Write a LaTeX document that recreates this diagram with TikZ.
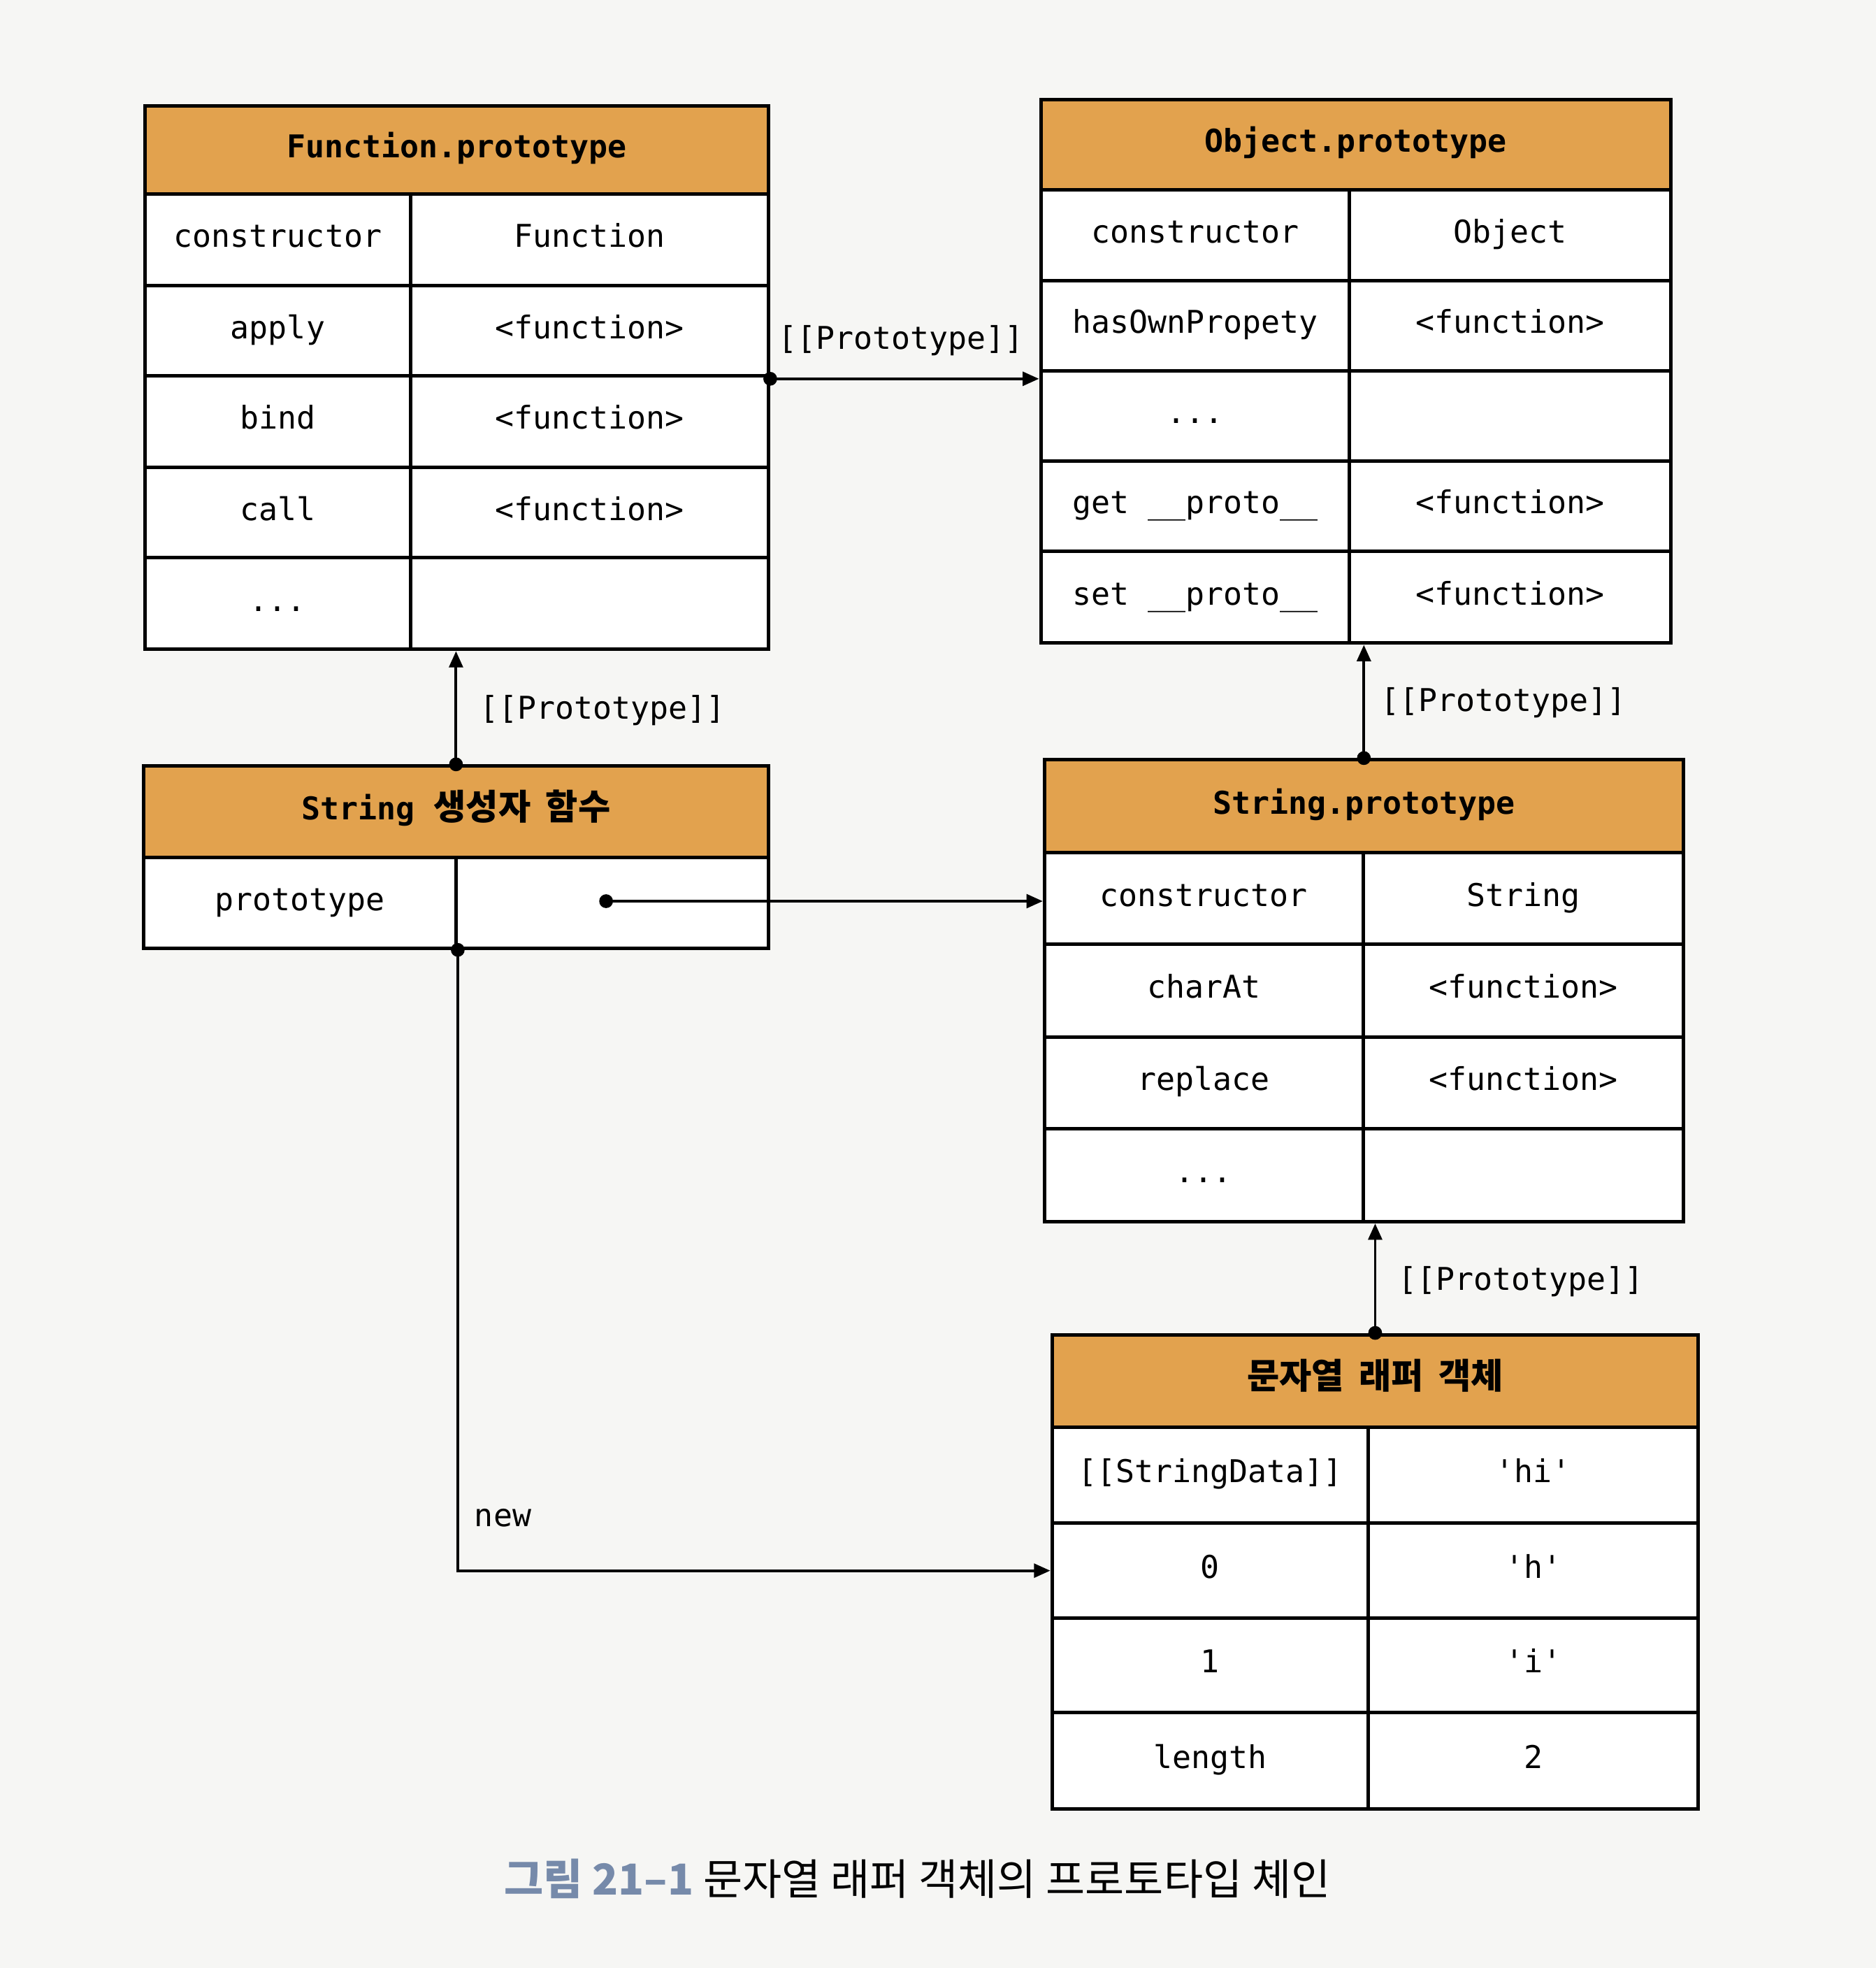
\documentclass[tikz,border=0pt]{standalone}
\usepackage{fontspec}
\usetikzlibrary{arrows.meta}
\newfontfamily\mono{DejaVu Sans Mono}
\newfontfamily\kr{Noto Sans CJK KR}
\definecolor{hdrcol}{RGB}{226,162,78}
\definecolor{capblue}{RGB}{118,138,170}
\definecolor{bgcol}{RGB}{246,246,244}
\newcommand{\fsz}{\fontsize{25}{30}\selectfont}
\newcommand{\krh}{\kr\bfseries\fontsize{28}{30}\selectfont}
\newcommand{\krsp}{\hspace{12pt}}
\begin{document}
\begin{tikzpicture}[x=1pt,y=-1pt,
  box/.style={draw=black, line width=2.8pt, inner sep=0pt, anchor=north west,
    text height=18pt, text depth=6pt, font=\mono\fsz},
  hdr/.style={box, fill=hdrcol, font=\mono\bfseries\fsz},
  cell/.style={box, fill=white},
  lbl/.style={font=\mono\fsz, inner sep=0pt, text height=18pt, text depth=6pt},
  arr/.style={line width=2.2pt, -{Triangle[length=13pt,width=11pt]}},
  dotr/.style={fill=black}]
\fill[bgcol] (0,0) rectangle (1495,1568);
\useasboundingbox (0,0) rectangle (1495,1568);

% Function.prototype
\node[hdr, minimum width=497pt, minimum height=70pt] (fph) at (114,83) {Function.prototype};
\node[cell, minimum width=212pt, minimum height=73pt] (fk1) at (114,153) {constructor};
\node[cell, minimum width=285pt, minimum height=73pt] (fv1) at (326,153) {Function};
\node[cell, minimum width=212pt, minimum height=73pt] (fk2) at (114,226) {apply};
\node[cell, minimum width=285pt, minimum height=73pt] (fv2) at (326,226) {<function>};
\node[cell, minimum width=212pt, minimum height=73pt] (fk3) at (114,298) {bind};
\node[cell, minimum width=285pt, minimum height=73pt] (fv3) at (326,298) {<function>};
\node[cell, minimum width=212pt, minimum height=73pt] (fk4) at (114,371) {call};
\node[cell, minimum width=285pt, minimum height=73pt] (fv4) at (326,371) {<function>};
\node[cell, minimum width=212pt, minimum height=73pt] (fk5) at (114,443) {...};
\node[cell, minimum width=285pt, minimum height=73pt] (fv5) at (326,443) {};

% Object.prototype
\node[hdr, minimum width=502pt, minimum height=72pt] (oph) at (828,78) {Object.prototype};
\node[cell, minimum width=246pt, minimum height=72pt] (ok1) at (828,150) {constructor};
\node[cell, minimum width=256pt, minimum height=72pt] (ov1) at (1074,150) {Object};
\node[cell, minimum width=246pt, minimum height=72pt] (ok2) at (828,222) {hasOwnPropety};
\node[cell, minimum width=256pt, minimum height=72pt] (ov2) at (1074,222) {<function>};
\node[cell, minimum width=246pt, minimum height=72pt] (ok3) at (828,294) {...};
\node[cell, minimum width=256pt, minimum height=72pt] (ov3) at (1074,294) {};
\node[cell, minimum width=246pt, minimum height=72pt] (ok4) at (828,366) {get \_\_proto\_\_};
\node[cell, minimum width=256pt, minimum height=72pt] (ov4) at (1074,366) {<function>};
\node[cell, minimum width=246pt, minimum height=73pt] (ok5) at (828,438) {set \_\_proto\_\_};
\node[cell, minimum width=256pt, minimum height=73pt] (ov5) at (1074,438) {<function>};

% String constructor
\node[hdr, minimum width=498pt, minimum height=73pt] (sch) at (113,609) {String {\krh 생성자\krsp 함수}};
\node[cell, minimum width=249pt, minimum height=72pt] (sck1) at (113,682) {prototype};
\node[cell, minimum width=249pt, minimum height=72pt] (scv1) at (362,682) {};

% String.prototype
\node[hdr, minimum width=509pt, minimum height=74pt] (sph) at (831,604) {String.prototype};
\node[cell, minimum width=254pt, minimum height=73pt] (sk1) at (831,678) {constructor};
\node[cell, minimum width=255pt, minimum height=73pt] (sv1) at (1085,678) {String};
\node[cell, minimum width=254pt, minimum height=74pt] (sk2) at (831,751) {charAt};
\node[cell, minimum width=255pt, minimum height=74pt] (sv2) at (1085,751) {<function>};
\node[cell, minimum width=254pt, minimum height=73pt] (sk3) at (831,825) {replace};
\node[cell, minimum width=255pt, minimum height=73pt] (sv3) at (1085,825) {<function>};
\node[cell, minimum width=254pt, minimum height=74pt] (sk4) at (831,898) {...};
\node[cell, minimum width=255pt, minimum height=74pt] (sv4) at (1085,898) {};

% String wrapper object
\node[hdr, minimum width=515pt, minimum height=74pt] (wh) at (837,1062) {\krh 문자열\krsp 래퍼\krsp 객체};
\node[cell, minimum width=252pt, minimum height=76pt] (wk1) at (837,1136) {[[StringData]]};
\node[cell, minimum width=263pt, minimum height=76pt] (wv1) at (1089,1136) {'hi'};
\node[cell, minimum width=252pt, minimum height=76pt] (wk2) at (837,1212) {0};
\node[cell, minimum width=263pt, minimum height=76pt] (wv2) at (1089,1212) {'h'};
\node[cell, minimum width=252pt, minimum height=75pt] (wk3) at (837,1288) {1};
\node[cell, minimum width=263pt, minimum height=75pt] (wv3) at (1089,1288) {'i'};
\node[cell, minimum width=252pt, minimum height=77pt] (wk4) at (837,1363) {length};
\node[cell, minimum width=263pt, minimum height=77pt] (wv4) at (1089,1363) {2};

% connectors
\draw[arr] (fv2.south east) -- (fv2.south east -| ok2.south west);
\fill[dotr] (fv2.south east) circle (5.5pt);
\node[lbl] (l1) at (718,272) {[[Prototype]]};

\draw[arr] (sch.north) -- (sch.north |- fk5.south);
\fill[dotr] (sch.north) circle (5.5pt);
\node[lbl] (l2) at (480,567) {[[Prototype]]};

\draw[arr] (sph.north) -- (sph.north |- ok5.south);
\fill[dotr] (sph.north) circle (5.5pt);
\node[lbl] (l3) at (1198,561) {[[Prototype]]};

\coordinate (pdot) at (483,718);
\draw[arr] (pdot) -- (pdot -| sk1.west);
\fill[dotr] (pdot) circle (5.5pt);

\draw[arr] (wh.north) -- (wh.north |- sk4.south);
\fill[dotr] (wh.north) circle (5.5pt);
\node[lbl] (l4) at (1212,1022) {[[Prototype]]};

\draw[arr] (sck1.south east) |- (wk2.west);
\fill[dotr] (sck1.south east) circle (5.5pt);
\node[lbl, anchor=west] (l5) at (378,1210) {new};

% caption
\node[inner sep=0pt, font=\kr\fontsize{34}{40}\selectfont] (cap) at (731,1497)
  {{\bfseries\color{capblue}그림 21–1} 문자열 래퍼 객체의 프로토타입 체인};
\end{tikzpicture}
\end{document}
